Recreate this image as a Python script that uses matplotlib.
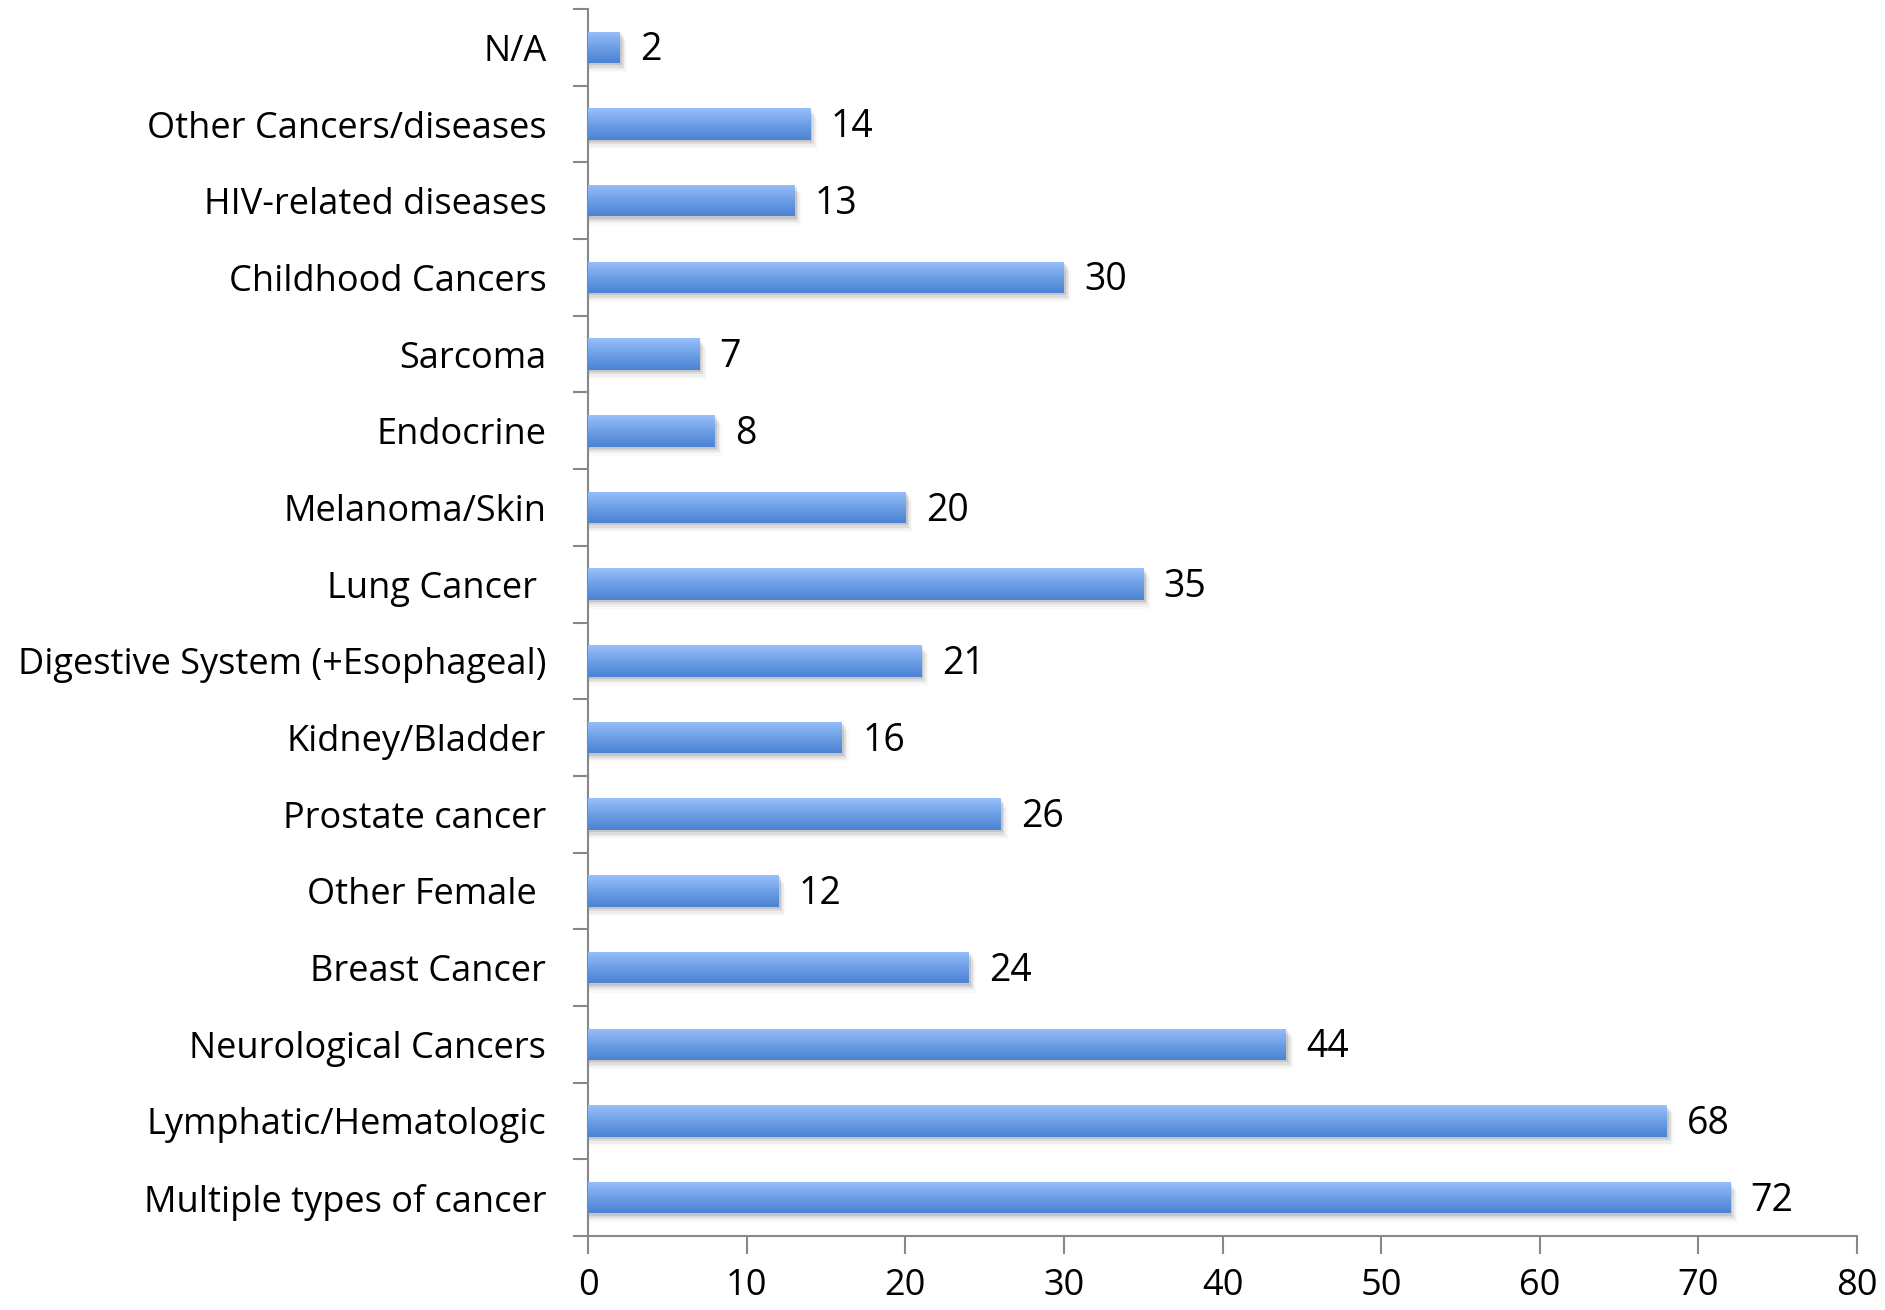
import numpy as np
import matplotlib
matplotlib.use("Agg")
import matplotlib.pyplot as plt
from matplotlib.colors import LinearSegmentedColormap
from matplotlib.patches import Rectangle

categories = [
    "Multiple types of cancer",
    "Lymphatic/Hematologic",
    "Neurological Cancers",
    "Breast Cancer",
    "Other Female ",
    "Prostate cancer",
    "Kidney/Bladder",
    "Digestive System (+Esophageal)",
    "Lung Cancer ",
    "Melanoma/Skin",
    "Endocrine",
    "Sarcoma",
    "Childhood Cancers",
    "HIV-related diseases",
    "Other Cancers/diseases",
    "N/A",
]
counts = [72, 68, 44, 24, 12, 26, 16, 21, 35, 20, 8, 7, 30, 13, 14, 2]
x_ticks = [0, 10, 20, 30, 40, 50, 60, 70, 80]

plt.rcParams["font.family"] = ["Open Sans", "DejaVu Sans"]

fig = plt.figure(figsize=(18.85, 13.1), dpi=100)
ax = fig.add_axes([588 / 1885, 1 - 1236 / 1310, (1857 - 588) / 1885, (1236 - 9) / 1310])

n = len(categories)
ypos = np.arange(n)
bar_h = 0.41

grad = LinearSegmentedColormap.from_list("bar", ["#4A82D2", "#6E9FE6", "#98C0FB"])
grad_img = np.linspace(0, 1, 256).reshape(-1, 1)

for y, v in zip(ypos, counts):
    # soft drop shadow beneath each bar
    for k, a in enumerate([0.10, 0.07, 0.045, 0.025]):
        off = 0.03 + 0.03 * k
        ax.add_patch(Rectangle((0, y - bar_h / 2 - off), v + 0.15 + 0.1 * k, bar_h,
                               facecolor="#000000", alpha=a, linewidth=0, zorder=1))
    rect = Rectangle((0, y - bar_h / 2), v, bar_h, facecolor="#6E9FE6",
                     linewidth=0, zorder=2)
    ax.add_patch(rect)
    im = ax.imshow(grad_img, cmap=grad, aspect="auto", origin="lower",
                   extent=(0, v, y - bar_h / 2, y + bar_h / 2), zorder=3,
                   interpolation="bilinear")
    im.set_clip_path(rect)
    ax.text(v + 1.3, y - 0.04, str(v), va="center", ha="left", fontsize=27,
            color="black", zorder=4)

ax.set_xlim(0, 80)
ax.set_ylim(-0.5, n - 0.5)
ax.set_xticks(x_ticks)
ax.set_xticklabels([str(t) for t in x_ticks], fontsize=26)

ax.set_yticks(ypos)
ax.set_yticklabels(categories, fontsize=26)
ax.set_yticks(np.arange(-0.5, n, 1.0), minor=True)
ax.tick_params(axis="y", which="major", length=0, pad=30)
ax.tick_params(axis="y", which="minor", length=11, width=1.5, color="#888888", direction="out")
ax.tick_params(axis="x", which="major", length=13, width=1.5, color="#888888",
               direction="out", pad=10)

for side in ["top", "right"]:
    ax.spines[side].set_visible(False)
for side in ["left", "bottom"]:
    ax.spines[side].set_color("#888888")
    ax.spines[side].set_linewidth(1.5)

fig.savefig("out.png", dpi=100, facecolor="white")
